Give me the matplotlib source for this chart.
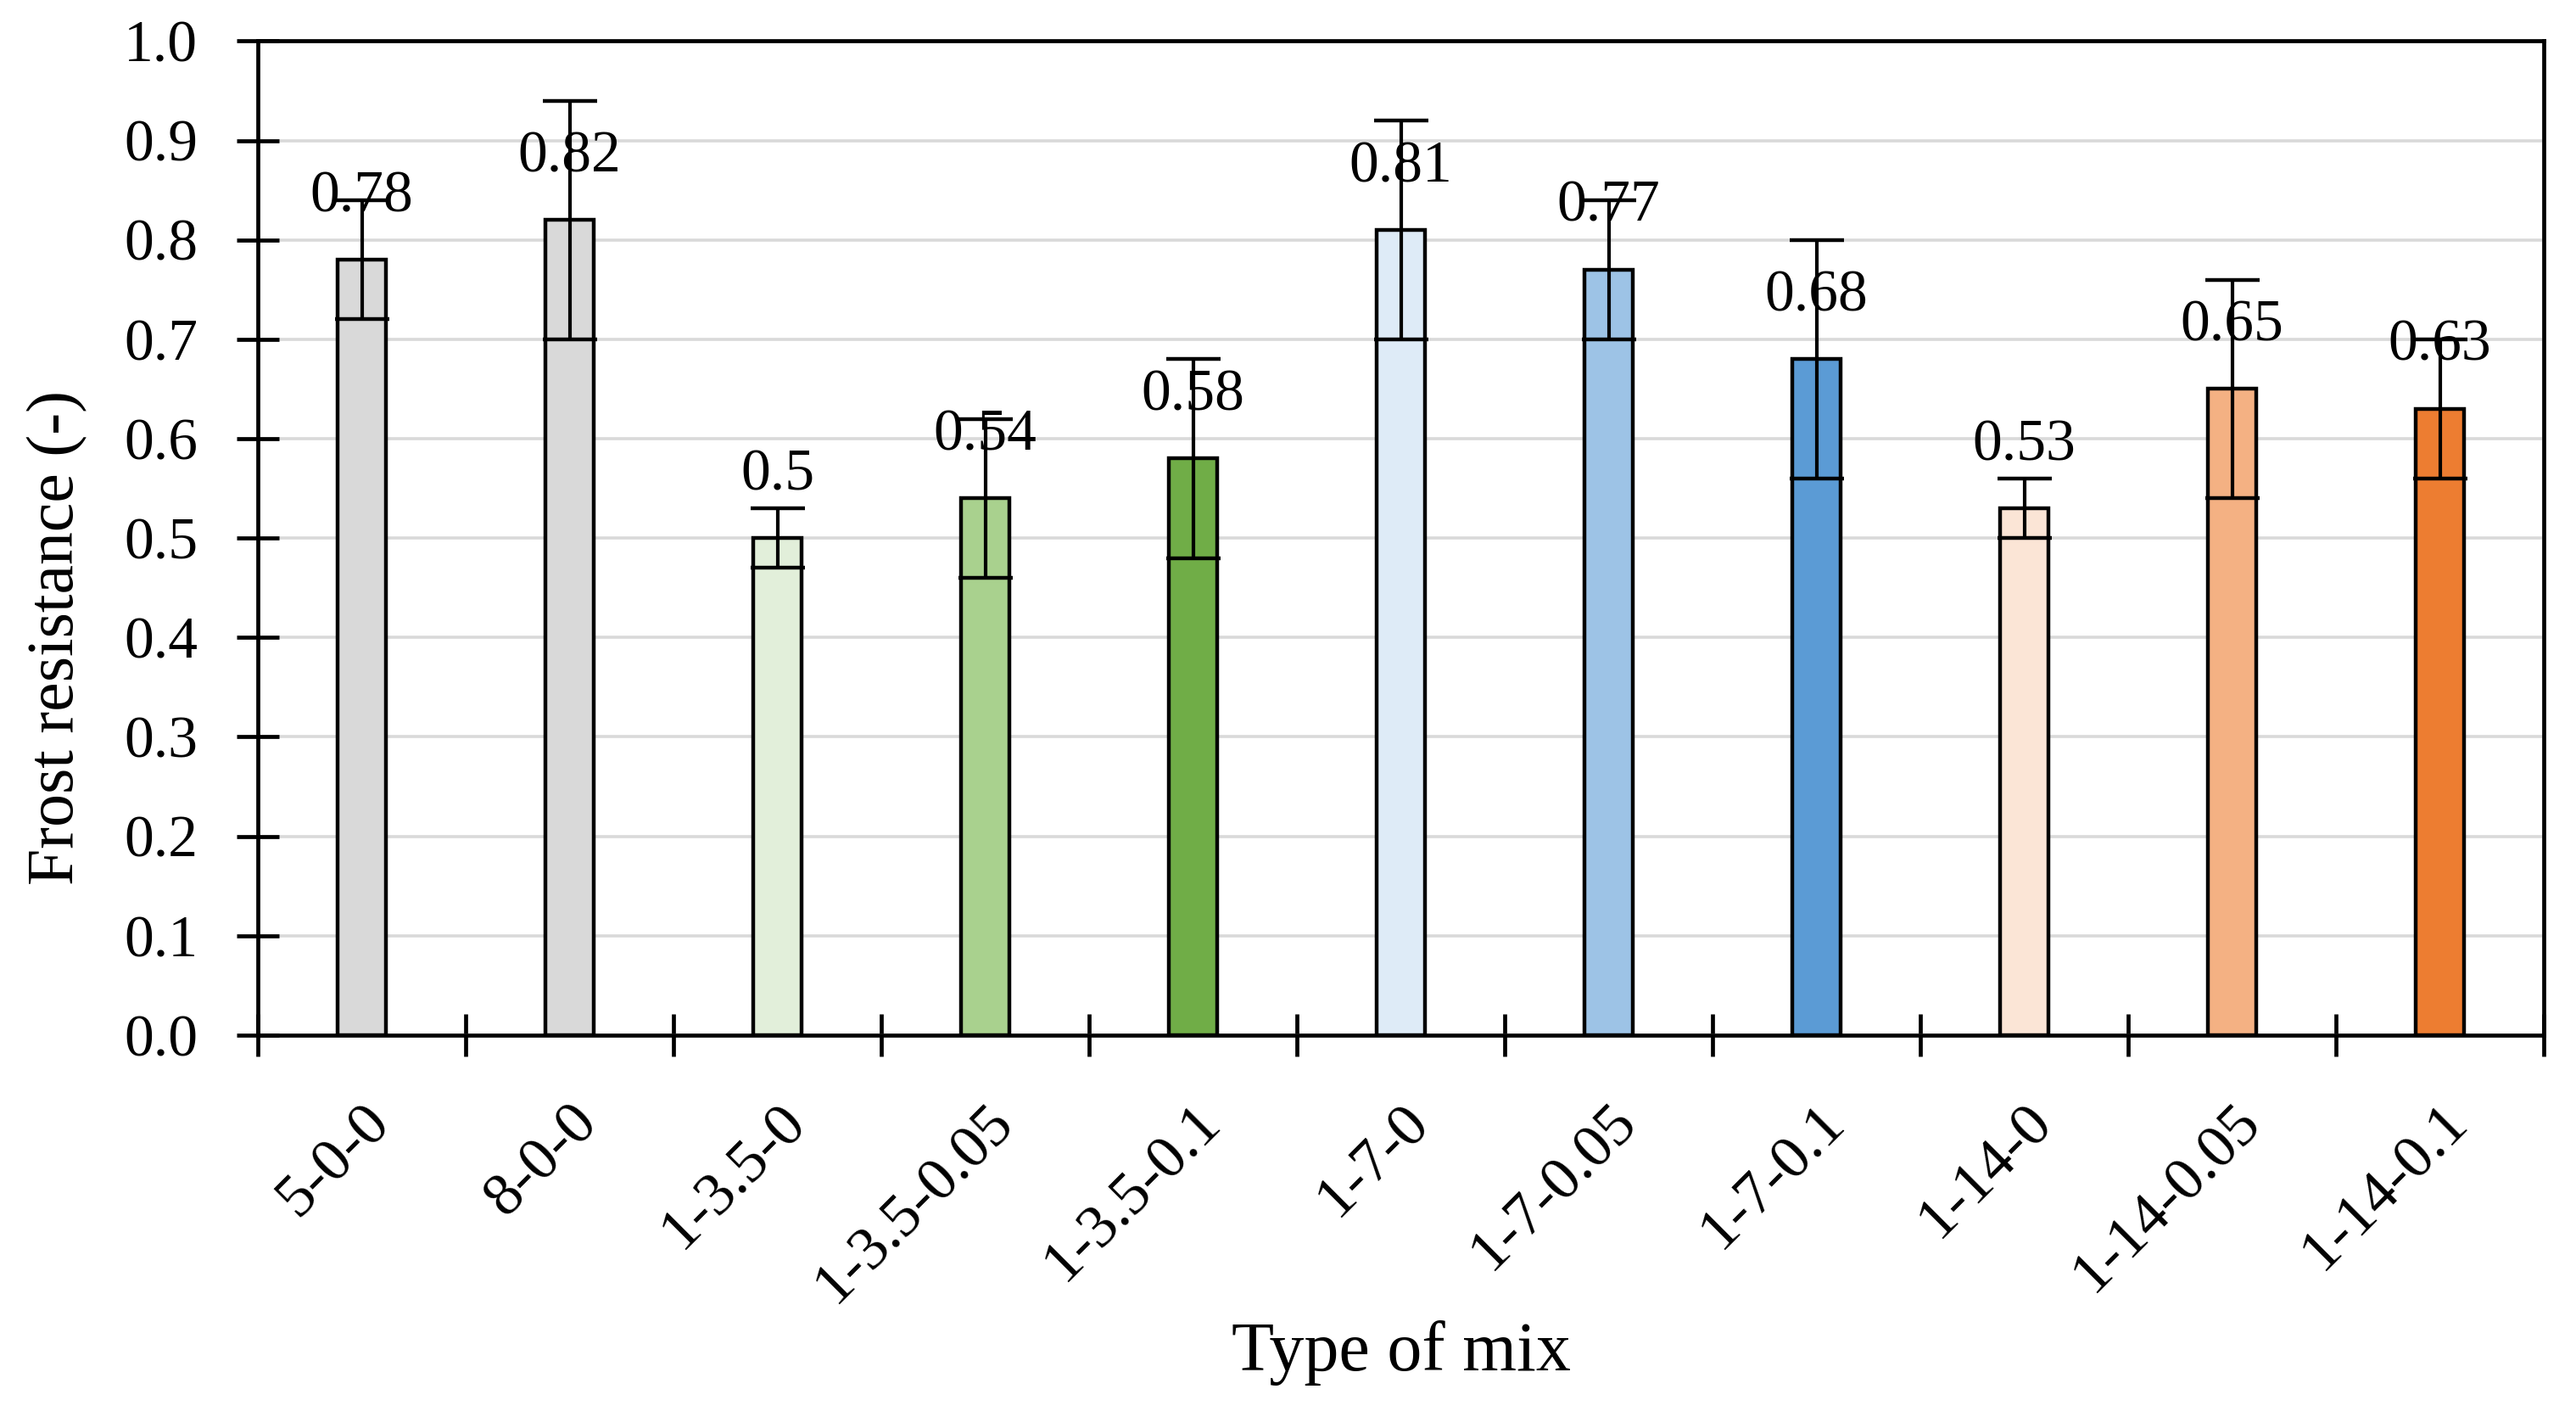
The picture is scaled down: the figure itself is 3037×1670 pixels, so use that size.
import matplotlib
matplotlib.use("Agg")
import matplotlib.pyplot as plt
import numpy as np
from matplotlib.ticker import FormatStrFormatter, MultipleLocator

mixes = ["5-0-0", "8-0-0", "1-3.5-0", "1-3.5-0.05", "1-3.5-0.1", "1-7-0",
         "1-7-0.05", "1-7-0.1", "1-14-0", "1-14-0.05", "1-14-0.1"]
frost = [0.78, 0.82, 0.50, 0.54, 0.58, 0.81, 0.77, 0.68, 0.53, 0.65, 0.63]
frost_err = [0.06, 0.12, 0.03, 0.08, 0.10, 0.11, 0.07, 0.12, 0.03, 0.11, 0.07]
bar_colors = ["#D9D9D9", "#D9D9D9",
              "#E2EFDA", "#A9D18E", "#70AD47",
              "#DEEBF7", "#9DC3E6", "#5B9BD5",
              "#FBE5D6", "#F4B183", "#ED7D31"]

plt.rcParams["font.family"] = ["Liberation Serif", "DejaVu Serif"]
tick_fs = 50
label_fs = 59

fig = plt.figure(figsize=(30.37, 16.7), dpi=100)
ax = fig.add_axes([0.1001, 0.2695, 0.8874, 0.7015])

x = np.arange(len(mixes))
ax.bar(x, frost, width=0.23, color=bar_colors, edgecolor="black",
       linewidth=3.2, zorder=3)
ax.errorbar(x, frost, yerr=frost_err, fmt="none", ecolor="black",
            elinewidth=3, capsize=23, capthick=3.2, zorder=4)

# value labels above each bar
for xi, v in zip(x, frost):
    ax.annotate(f"{v:g}", xy=(xi, v), xytext=(0, 41), textcoords="offset points",
                ha="center", va="baseline", fontsize=tick_fs, zorder=5)

ax.set_xlim(-0.5, len(mixes) - 0.5)
ax.set_ylim(0, 1.0)
ax.yaxis.set_major_locator(MultipleLocator(0.1))
ax.yaxis.set_major_formatter(FormatStrFormatter("%.1f"))
ax.grid(axis="y", color="#D9D9D9", linewidth=2.6, zorder=0)
ax.set_axisbelow(True)

ax.set_xticks(x)
ax.set_xticklabels(mixes, rotation=45, ha="right", rotation_mode="anchor",
                   fontsize=52)
ax.set_xticks(np.arange(-0.5, len(mixes)), minor=True)
ax.tick_params(axis="x", which="major", length=0, pad=50)
ax.tick_params(axis="x", which="minor", direction="inout", length=36, width=3.4)
ax.tick_params(axis="y", direction="inout", length=36, width=3.4,
               labelsize=tick_fs, pad=33)

for side in ["left", "bottom", "top", "right"]:
    ax.spines[side].set_linewidth(3.4)
    ax.spines[side].set_color("black")

ax.set_ylabel("Frost resistance (-)", fontsize=label_fs - 3)
ax.yaxis.set_label_coords(-0.0876, 0.40)
ax.yaxis.label.set_va("center")
ax.set_xlabel("Type of mix", fontsize=label_fs)
ax.xaxis.set_label_coords(0.5, -0.32)
ax.xaxis.label.set_va("center")

fig.savefig("out.png", dpi=100)
